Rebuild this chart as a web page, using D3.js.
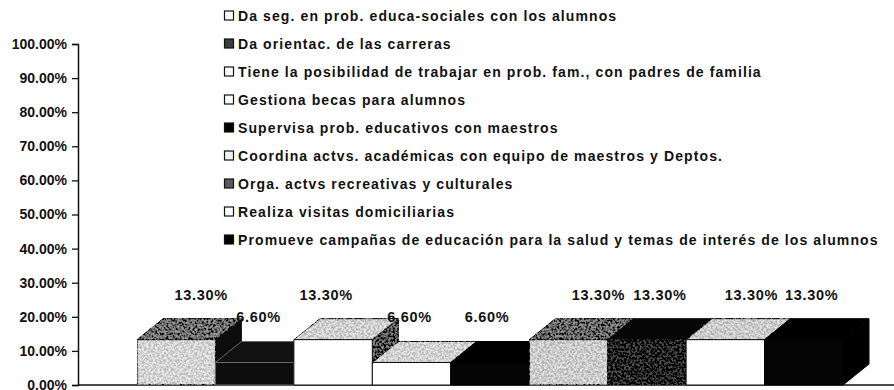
<!DOCTYPE html>
<html>
<head>
<meta charset="utf-8">
<script src="https://cdn.jsdelivr.net/npm/d3@7"></script>
<style>
  html, body { margin: 0; padding: 0; background: #fff; }
  svg { display: block; }
  text { font-family: "Liberation Sans", Arial, sans-serif; font-weight: bold; fill: #111; }
</style>
</head>
<body>
<svg id="chart" width="894" height="390"></svg>
<script>
// Activities of the school counsellor (share of responses)
const categories = [
  "Da seg. en prob. educa-sociales con los alumnos",
  "Da orientac. de las carreras",
  "Tiene la posibilidad de trabajar en prob. fam., con padres de familia",
  "Gestiona becas para alumnos",
  "Supervisa prob. educativos con maestros",
  "Coordina actvs. académicas con equipo de maestros y Deptos.",
  "Orga. actvs recreativas y culturales",
  "Realiza visitas domiciliarias",
  "Promueve campañas de educación para la salud y temas de interés de los alumnos"
];
const values = [13.3, 6.6, 13.3, 6.6, 6.6, 13.3, 13.3, 13.3, 13.3];
const yTicks = [0, 10, 20, 30, 40, 50, 60, 70, 80, 90, 100];

// Face shading per bar (front / top / right side) and legend swatches
const frontFill = ["#d4d4d4", "#0d0d0d", "#ffffff", "#ffffff", "#050505", "#cccccc", "#1c1c1c", "#ffffff", "#050505"];
const topFill   = ["#6e6e6e", "#111111", "#d0d0d0", "#d2d2d2", "#000000", "#686868", "#060606", "#cccccc", "#000000"];
const sideFill  = ["#0c0c0c", "#000000", "#505050", "#474747", "#000000", "#141414", "#000000", "#151515", "#000000"];
// texture strength per face: 0 none, 1 soft, 2 full
const frontGrain = [2, 0, 0, 0, 0, 2, 1, 0, 0];
const topGrain   = [2, 0, 2, 2, 0, 2, 0, 2, 0];
const sideGrain  = [0, 0, 2, 2, 0, 0, 0, 0, 0];
const edgeStroke = ["#111", "#6a6a6a", "#111", "#111", "#000", "#111", "#111", "#111", "#000"];
const swatchFill = ["#ffffff", "#3c3c3c", "#ffffff", "#ffffff", "#000000", "#f2f2f2", "#5a5a5a", "#ffffff", "#000000"];
// horizontal nudge of each value label relative to its bar
const labelNudge = [25, 4, -7, -2, -3, 30, 13, 26, 8];

const svg = d3.select("#chart");

// speckled print texture: high-contrast noise blended into the face colour
const defs = svg.append("defs");
function grainFilter(id, amount) {
  const f = defs.append("filter").attr("id", id)
    .attr("x", 0).attr("y", 0).attr("width", 1).attr("height", 1);
  f.append("feTurbulence").attr("type", "fractalNoise")
    .attr("baseFrequency", 0.45).attr("numOctaves", 2).attr("seed", 7).attr("result", "noise");
  f.append("feColorMatrix").attr("in", "noise").attr("type", "matrix")
    .attr("values", "1 0 0 0 0  1 0 0 0 0  1 0 0 0 0  0 0 0 0 1").attr("result", "gray");
  const ct = f.append("feComponentTransfer").attr("in", "gray").attr("result", "contrast");
  ["feFuncR", "feFuncG", "feFuncB"].forEach(fn =>
    ct.append(fn).attr("type", "linear").attr("slope", 3).attr("intercept", -1));
  f.append("feComposite").attr("in", "SourceGraphic").attr("in2", "contrast")
    .attr("operator", "arithmetic").attr("k1", 0).attr("k2", 1)
    .attr("k3", amount).attr("k4", -amount / 2).attr("result", "mix");
  f.append("feComposite").attr("in", "mix").attr("in2", "SourceGraphic").attr("operator", "in");
}
grainFilter("grain1", 0.14);
grainFilter("grain2", 0.34);

const axisX = 78;
const y = d3.scaleLinear().domain([0, 100]).range([385, 44]);
const x = d3.scaleBand().domain(d3.range(values.length)).range([137, 843]).padding(0);
const depthX = 26, depthY = 21;

// value axis
const yAxis = d3.axisLeft(y).tickValues(yTicks)
  .tickFormat(d => d.toFixed(2) + "%").tickSize(6).tickPadding(5);
const gy = svg.append("g").attr("transform", `translate(${axisX},0)`).call(yAxis);
gy.select(".domain").attr("stroke", "#111").attr("stroke-width", 1.5);
gy.selectAll(".tick line").attr("stroke", "#111").attr("stroke-width", 1.3);
gy.selectAll(".tick text").style("font-size", "14px").attr("fill", "#111");

// baseline
svg.append("line").attr("x1", axisX).attr("x2", 894).attr("y1", y(0)).attr("y2", y(0))
  .attr("stroke", "#111").attr("stroke-width", 1.5);

// 3D columns, painted left to right so nearer faces cover farther ones
const bars = svg.append("g");
values.forEach((v, i) => {
  const x0 = x(i), x1 = x(i) + x.bandwidth();
  const yb = y(0), yt = y(v);
  const g = bars.append("g");
  const face = (pts, fill, grainLevel) => {
    g.append("path")
      .attr("d", "M" + pts.map(p => p.join(",")).join("L") + "Z")
      .attr("fill", fill)
      .attr("stroke", edgeStroke[i]).attr("stroke-width", 1)
      .attr("stroke-linejoin", "round")
      .attr("filter", grainLevel ? `url(#grain${grainLevel})` : null);
  };
  face([[x1, yb], [x1 + depthX, yb - depthY], [x1 + depthX, yt - depthY], [x1, yt]], sideFill[i], sideGrain[i]);
  face([[x0, yt], [x0 + depthX, yt - depthY], [x1 + depthX, yt - depthY], [x1, yt]], topFill[i], topGrain[i]);
  face([[x0, yb], [x0, yt], [x1, yt], [x1, yb]], frontFill[i], frontGrain[i]);
});

// value labels
svg.append("g").selectAll("text").data(values).join("text")
  .attr("x", (d, i) => x(i) + x.bandwidth() / 2 + labelNudge[i])
  .attr("y", d => y(d) - 40)
  .attr("text-anchor", "middle")
  .style("font-size", "14.5px").style("letter-spacing", "0.7px")
  .text(d => d.toFixed(2) + "%");

// legend
const ly = d3.scalePoint().domain(d3.range(categories.length)).range([16, 240]);
const legend = svg.append("g");
const rows = legend.selectAll("g").data(categories).join("g")
  .attr("transform", (d, i) => `translate(224,${ly(i)})`);
rows.append("rect").attr("x", 0.5).attr("y", -5).attr("width", 9).attr("height", 9)
  .attr("fill", (d, i) => swatchFill[i]).attr("stroke", "#111").attr("stroke-width", 1.2);
rows.append("text").attr("x", 14).attr("y", 0).attr("dy", "0.36em")
  .style("font-size", "14px").style("letter-spacing", "1.1px").text(d => d);
</script>
</body>
</html>
